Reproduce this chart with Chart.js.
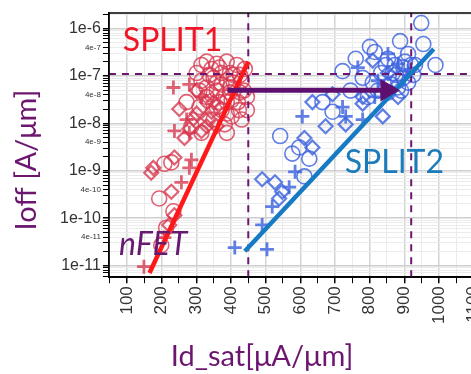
<!DOCTYPE html>
<html>
<head>
<meta charset="utf-8">
<script src="https://cdn.jsdelivr.net/npm/chart.js@4/dist/chart.umd.min.js"></script>
<style>
html, body { margin: 0; padding: 0; background: #fff; overflow: hidden; }
#wrap { position: relative; width: 497px; height: 374px; }
</style>
</head>
<body>
<div id="wrap"><canvas id="myChart"></canvas></div>
<script>
// axis limits
const xRange = [48, 1100];
const yRange = [5.7e-12, 2.12e-6];
const xTickValues = [50,100,150,200,250,300,350,400,450,500,550,600,650,700,750,800,850,900,950,1000,1050,1100];

// SPLIT1 (red) : [Id_sat, Ioff]
const split1Circle = [
  [330,2.0e-7],[359,1.8e-7],[388,2.0e-7],[417,1.7e-7],[440,1.4e-7],[344,1.4e-7],[373,1.15e-7],
  [408,1.05e-7],[431,7.9e-8],[301,1.15e-7],[315,7.9e-8],[359,7.2e-8],[397,5.7e-8],[426,4.5e-8],
  [446,3.6e-8],[379,3.6e-8],[344,4.1e-8],[423,1.9e-8],[388,1.6e-8],[431,1.2e-8],[382,9.5e-9],
  [388,6.3e-9],[315,6.3e-9],[286,8.7e-9],[208,1.4e-9],[228,1.5e-9],[193,2.6e-10],[234,1.4e-10],
  [213,6.3e-11],[199,2.7e-11],[272,2.8e-8],[309,2.2e-8],[350,9.1e-8],[373,6.6e-8],[397,4.5e-8],
  [367,2.8e-8],[330,5.7e-8],[402,3.1e-8],[359,2.2e-8],[388,7.9e-8],
  [315,1.7e-7],[338,1.05e-7],[367,1.5e-7],[397,1.15e-7],[426,1.05e-7],[330,3.6e-8],[359,4.9e-8],
  [408,7.2e-8],[437,4.9e-8],[373,1.9e-8],[402,1.4e-8],[350,1.2e-8],[420,2.8e-8],[309,4.9e-8],
  [388,2.8e-8],[446,1.9e-8]
];
const split1Diamond = [
  [251,2.0e-8],[292,1.26e-8],[335,1.26e-8],[266,4.9e-9],[315,6.9e-9],[237,1.9e-9],[176,1.15e-9],
  [170,9.1e-10],[228,3.6e-10],[237,1.15e-10],[222,7.2e-11],[330,2.8e-8],[359,8.7e-9],[301,4.9e-8],
  [344,1.76e-8],[301,1.6e-8],[330,8.7e-9],[280,7.6e-9],[350,2.8e-8]
];
const split1Plus = [
  [234,5.7e-8],[280,6.6e-8],[237,6.9e-9],[280,6.3e-9],[280,1.15e-9],[286,1.7e-9],[257,5.7e-10],
  [208,3.9e-11],[149,9.5e-12],[315,3.6e-8],[272,1.2e-8]
];

// SPLIT2 (blue)
const split2Circle = [
  [949,1.3e-6],[888,5.4e-7],[955,4.7e-7],[801,4.1e-7],[815,3.2e-7],[990,1.7e-7],[911,2.9e-7],
  [760,2.3e-7],[722,1.26e-7],[931,1.7e-7],[873,1.7e-7],[853,2.3e-7],[833,1.15e-7],[780,9.1e-8],
  [745,4.9e-8],[897,9.1e-8],[542,5.4e-9],[577,2.3e-9],[597,3.1e-9],[626,1.8e-9],[612,7.6e-10],
  [664,2.8e-8],[693,1.76e-8],[795,3.6e-8],[882,5.7e-8],[867,1.15e-7],[882,7.9e-8],[897,1.5e-7],
  [911,7.2e-8],[862,6.6e-8],[926,1.05e-7],
  [847,1.7e-7],[876,1.05e-7],[902,2.0e-7],[891,4.9e-8],[853,4.5e-8],[824,4.9e-8],[920,1.7e-7],
  [809,7.2e-8]
];
const split2Diamond = [
  [635,2.8e-8],[693,4.1e-8],[673,8.7e-9],[731,9.5e-9],[838,1.4e-8],[780,2.6e-8],[809,2.1e-7],
  [612,4.9e-9],[635,3.1e-9],[490,6.6e-10],[527,5.7e-10],[548,3.6e-10],[539,2.6e-10],[882,3.6e-8],
  [853,1.15e-7],[780,3.6e-8]
];
const split2Plus = [
  [411,2.4e-11],[504,2.2e-11],[490,7.2e-11],[519,1.76e-10],[568,4.5e-10],[585,9.5e-10],[606,1.4e-8],
  [853,2.9e-7],[766,1.5e-7],[722,2.2e-8],[731,1.4e-8],[780,1.2e-8],[824,7.9e-8],[911,1.26e-7],
  [815,3.6e-8],[882,1.8e-7]
];

// trend lines, guides and shift arrow
const split1Fit = [[165,7e-12],[450,2e-7]];
const split2Fit = [[440,2e-11],[985,3.7e-7]];
const guideX = [450, 920];
const guideY = 1.1e-7;
const shiftArrow = [[390,5e-8],[850,5e-8]];

// text notes [text, x, y]
const notes = [
  ['SPLIT1', 88, 3.3e-7],
  ['SPLIT2', 728, 8.8e-10],
  ['nFET', 77, 1.65e-11]
];

const pts = arr => arr.map(p => ({x: p[0], y: p[1]}));
const red = 'rgba(215,55,78,0.78)';
const blue = 'rgba(58,96,222,0.8)';
const purple = 'rgb(108,22,112)';

function marker(data, color, style, r, w) {
  return {
    type: 'scatter', data: pts(data), showLine: false, order: 2,
    pointStyle: style, pointRadius: r, pointBorderWidth: w,
    borderColor: color, backgroundColor: 'rgba(0,0,0,0)'
  };
}
function line(data, color, width, dash) {
  return {
    type: 'line', data: pts(data), order: 1, showLine: true, fill: false,
    borderColor: color, borderWidth: width, borderDash: dash || [],
    pointRadius: 0, borderCapStyle: 'butt', tension: 0
  };
}

// y ticks: 1..9 per decade
function sig(v) {
  const n = Math.floor(Math.log10(v) + 1e-9);
  return [Math.round(v / Math.pow(10, n)), n];
}
const yTickValues = [];
for (let n = -12; n <= -6; n++) {
  for (let k = 1; k <= 9; k++) {
    const v = Number(k + 'e' + n);
    if (v >= yRange[0] && v <= yRange[1]) yTickValues.push(v);
  }
}

const datasets = [
  marker(split1Circle, red, 'circle', 7.5, 1.6),
  marker(split1Diamond, red, 'rectRot', 7, 2.2),
  marker(split1Plus, red, 'cross', 7, 2.8),
  marker(split2Circle, blue, 'circle', 7.5, 1.6),
  marker(split2Diamond, blue, 'rectRot', 7, 2.2),
  marker(split2Plus, blue, 'cross', 7, 2.8),
  line(split1Fit, 'rgb(255,24,24)', 4.5),
  line(split2Fit, 'rgb(22,122,196)', 4.5),
  line([[guideX[0], yRange[0]], [guideX[0], yRange[1]]], purple, 2, [7, 6]),
  line([[guideX[1], yRange[0]], [guideX[1], yRange[1]]], purple, 2, [7, 6]),
  line([[xRange[0], guideY], [xRange[1], guideY]], purple, 2, [7, 6])
];
const arrowSet = line(shiftArrow, 'rgb(94,16,110)', 5);
arrowSet.pointStyle = 'triangle';
arrowSet.rotation = 90;
arrowSet.pointRadius = [0, 8];
arrowSet.pointBackgroundColor = 'rgb(94,16,110)';
arrowSet.pointBorderColor = 'rgb(94,16,110)';
arrowSet.order = 0;
datasets.push(arrowSet);

// frame, notes and axis titles
const decor = {
  id: 'decor',
  afterDatasetsDraw(chart) {
    const {ctx, chartArea: a, scales} = chart;
    ctx.save();
    ctx.strokeStyle = '#000';
    ctx.lineWidth = 1.5;
    ctx.strokeRect(a.left, a.top, a.right - a.left, a.bottom - a.top);
    const styles = [
      ['32px Lato', 'rgb(240,22,40)'],
      ['32px Lato', 'rgb(27,123,187)'],
      ['italic 32px Lato', 'rgb(102,26,112)']
    ];
    notes.forEach((n, i) => {
      ctx.font = styles[i][0];
      ctx.fillStyle = styles[i][1];
      ctx.textAlign = 'left';
      ctx.textBaseline = 'alphabetic';
      ctx.fillText(n[0], scales.x.getPixelForValue(n[1]), scales.y.getPixelForValue(n[2]));
    });
    ctx.fillStyle = purple;
    ctx.font = '29px Lato';
    ctx.textAlign = 'center';
    ctx.textBaseline = 'middle';
    ctx.fillText('Id_sat[μA/μm]', 262, 357);
    ctx.translate(27, 160);
    ctx.rotate(-Math.PI / 2);
    ctx.fillText('Ioff [A/μm]', 0, 0);
    ctx.restore();
  }
};

const chart = new Chart(document.getElementById('myChart'), {
  type: 'scatter',
  data: { datasets: datasets },
  options: {
    responsive: true,
    maintainAspectRatio: false,
    animation: false,
    layout: { padding: { left: 58, top: 8, bottom: 47, right: 0 } },
    plugins: { legend: { display: false }, tooltip: { enabled: false } },
    scales: {
      x: {
        type: 'linear', min: xRange[0], max: xRange[1],
        afterBuildTicks: s => { s.ticks = xTickValues.map(v => ({value: v})); },
        ticks: {
          autoSkip: false, minRotation: 90, maxRotation: 90, padding: 3,
          color: '#333', font: { family: 'Liberation Sans', size: 17 },
          callback: v => (v % 100 === 0 ? String(v) : '')
        },
        grid: {
          color: c => (c.tick && c.tick.value % 100 === 0 ? '#d4d4d4' : '#ebebeb'),
          lineWidth: c => (c.tick && c.tick.value % 100 === 0 ? 1.5 : 1),
          tickColor: '#000', tickLength: 6
        },
        border: { color: '#000', width: 1.5 }
      },
      y: {
        type: 'logarithmic', min: yRange[0], max: yRange[1],
        afterBuildTicks: s => { s.ticks = yTickValues.map(v => ({value: v})); },
        ticks: {
          autoSkip: false, padding: 2, color: '#333',
          font: c => {
            const k = c.tick ? sig(c.tick.value)[0] : 1;
            return k === 1 ? { family: 'Liberation Sans', size: 16 } : { family: 'Liberation Sans Narrow, Liberation Sans', size: 8 };
          },
          callback: v => {
            const s = sig(v);
            return s[0] === 1 || s[0] === 4 ? s[0] + 'e' + s[1] : '';
          }
        },
        grid: {
          color: c => (c.tick && sig(c.tick.value)[0] === 1 ? '#cfcfcf' : '#ebebeb'),
          lineWidth: c => (c.tick && sig(c.tick.value)[0] === 1 ? 1.5 : 1),
          tickColor: '#000', tickLength: 6
        },
        border: { color: '#000', width: 1.5 }
      }
    }
  },
  plugins: [decor]
});
</script>
</body>
</html>
